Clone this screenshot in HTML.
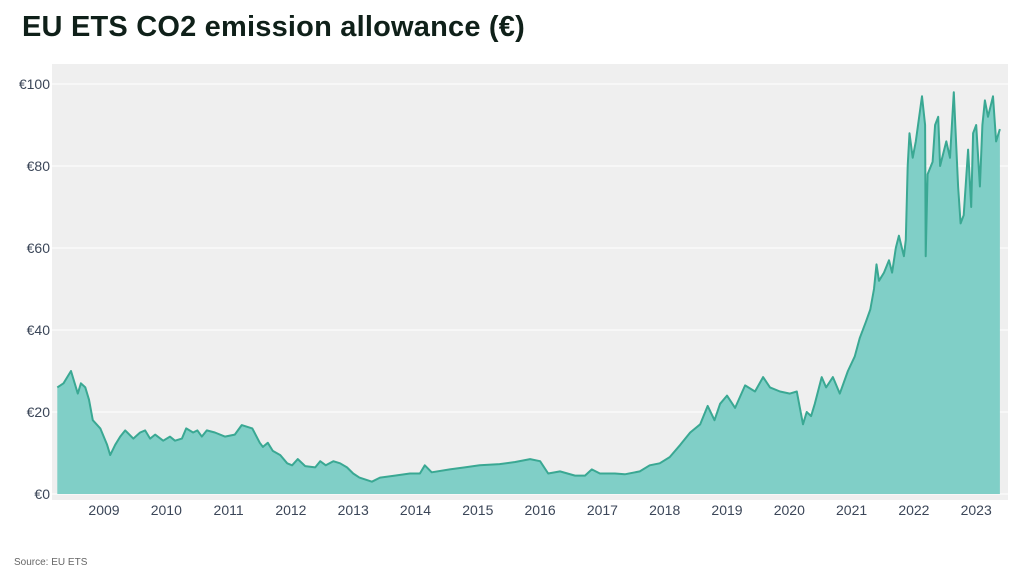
<!DOCTYPE html>
<html><head><meta charset="utf-8"><style>
body{margin:0;width:1024px;height:576px;background:#fff;font-family:"Liberation Sans",sans-serif;overflow:hidden;position:relative}
#title{position:absolute;left:22px;top:11px;font-size:29px;font-weight:bold;color:#0f2019;letter-spacing:0.2px}
#src{position:absolute;left:14px;top:557px;font-size:10px;color:#666}
svg{position:absolute;left:0;top:0}
</style></head><body>
<div id="title">EU ETS CO2 emission allowance (€)</div>
<div id="src">Source: EU ETS</div>
<svg id="chart" width="1024" height="576"></svg>
<script>
const years=[2008.25,2008.35,2008.47,2008.58,2008.63,2008.7,2008.76,2008.82,2008.94,2009.05,2009.1,2009.18,2009.26,2009.34,2009.47,2009.58,2009.66,2009.74,2009.82,2009.95,2010.06,2010.14,2010.25,2010.32,2010.43,2010.5,2010.57,2010.65,2010.78,2010.94,2011.1,2011.21,2011.38,2011.5,2011.55,2011.63,2011.71,2011.83,2011.94,2012.02,2012.11,2012.23,2012.39,2012.47,2012.56,2012.68,2012.79,2012.9,2013.0,2013.1,2013.3,2013.43,2013.67,2013.91,2014.07,2014.15,2014.26,2014.55,2014.79,2015.03,2015.35,2015.6,2015.84,2016.0,2016.13,2016.32,2016.56,2016.72,2016.83,2016.96,2017.2,2017.36,2017.6,2017.76,2017.92,2018.08,2018.25,2018.41,2018.57,2018.69,2018.8,2018.89,2019.0,2019.13,2019.29,2019.45,2019.58,2019.69,2019.85,2020.01,2020.12,2020.22,2020.28,2020.35,2020.41,2020.52,2020.59,2020.7,2020.81,2020.94,2021.05,2021.13,2021.23,2021.3,2021.36,2021.4,2021.44,2021.52,2021.6,2021.65,2021.71,2021.76,2021.84,2021.87,2021.9,2021.93,2021.98,2022.03,2022.13,2022.18,2022.19,2022.22,2022.3,2022.34,2022.39,2022.42,2022.52,2022.58,2022.64,2022.71,2022.75,2022.8,2022.87,2022.92,2022.95,2023.0,2023.06,2023.1,2023.14,2023.19,2023.27,2023.32,2023.38];
const prices=[26,27,30,24.5,27,26,23,18,16,12,9.5,12,14,15.5,13.5,15,15.5,13.5,14.5,13,14,13,13.5,16,15,15.5,14,15.5,15,14,14.5,16.8,16,12.5,11.5,12.5,10.5,9.5,7.5,7,8.5,6.8,6.5,8,7,8,7.5,6.5,5,4,3,4,4.5,5,5,7,5.3,6,6.5,7,7.3,7.8,8.5,8,5,5.5,4.5,4.5,6,5,5,4.8,5.5,7,7.5,9,12,15,17,21.5,18,22,24,21,26.5,25,28.5,26,25,24.5,25,17,20,19,22,28.5,26,28.5,24.5,30,33.5,38,42,45,50,56,52,54,57,54,60,63,58,62,80,88,82,86,97,90,58,78,81,90,92,80,86,82,98,75,66,68,84,70,88,90,75,90,96,92,97,86,89];
const yTicks=[0,20,40,60,80,100];
const xTicks=[2009,2010,2011,2012,2013,2014,2015,2016,2017,2018,2019,2020,2021,2022,2023];
const NS="http://www.w3.org/2000/svg";
const svg=document.getElementById('chart');
const X=y=>104+(y-2009)*62.3;
const Y=v=>494-v*4.1;
function mk(t,a){const e=document.createElementNS(NS,t);for(const k in a)e.setAttribute(k,a[k]);svg.appendChild(e);return e;}
const bg=mk('rect',{x:52,y:64,width:956,height:436,fill:'#efefef'});


yTicks.forEach(v=>{
 const g=mk('line',{x1:52,x2:1008,y1:Y(v),y2:Y(v),stroke:'#fff','stroke-width':1});
 
 
 const t=mk('text',{x:50,y:Y(v)+5,'text-anchor':'end','font-size':14,fill:'#3b4658'});
 t.textContent='€'+v;
 
 
});
xTicks.forEach(y=>{
 const t=mk('text',{x:X(y),y:515,'text-anchor':'middle','font-size':14,fill:'#3b4658'});
 t.textContent=y;
 
 
});
let d='';years.forEach((y,i)=>{d+=(i?'L':'M')+X(y).toFixed(1)+','+Y(prices[i]).toFixed(1);});
const area=mk('path',{d:d+'L'+X(years[years.length-1]).toFixed(1)+','+Y(0)+'L'+X(years[0]).toFixed(1)+','+Y(0)+'Z',fill:'#80cfc7'});


const line=mk('path',{d:d,fill:'none',stroke:'#3aa893','stroke-width':2,'stroke-linejoin':'round'});


</script>
</body></html>
